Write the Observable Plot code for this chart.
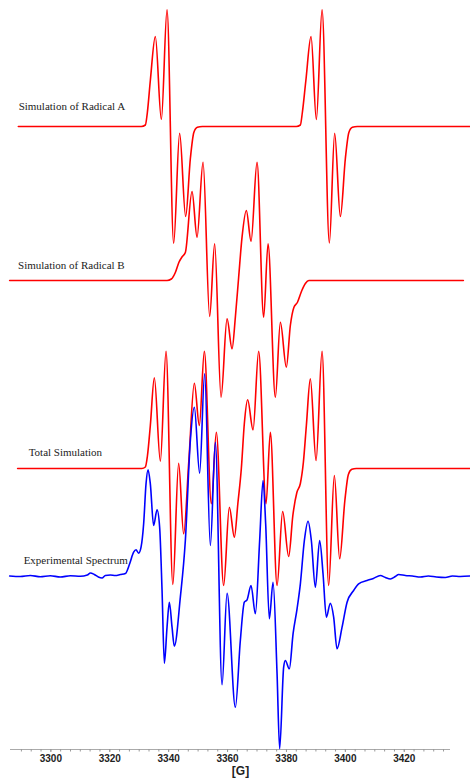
<!DOCTYPE html>
<html>
<head>
<meta charset="utf-8">
<script src="https://cdn.jsdelivr.net/npm/d3@7"></script>
<script src="https://cdn.jsdelivr.net/npm/@observablehq/plot@0.6"></script>
<style>
  html, body { margin: 0; padding: 0; background: #fff; }
  #chart svg { display: block; }
</style>
</head>
<body>
<div id="chart"></div>
<script>
// EPR spectra: magnetic field in gauss, derivative intensity in arbitrary units.

// Simulation of Radical A
const radicalAField = [3288.96, 3330.73, 3332.09, 3332.77, 3333.78, 3335.48, 3337.52, 3339.45, 3341.70, 3343.73, 3345.77, 3347.37, 3348.55, 3349.74, 3351.44,
  3383.36, 3384.72, 3385.40, 3386.59, 3388.35, 3390.15, 3392.09, 3394.57, 3396.37, 3398.30, 3400.00, 3401.19, 3402.38, 3404.07, 3442.44];
const radicalAIntensity = [0, 0, 1.5, 14, 46, 90, 7, 116.7, -116.7, -6.7, -90, -32, -6, -0.8, 0,
  0, 1.5, 14, 46, 90, 7, 116.7, -116.5, -6.7, -90, -32, -6, -0.8, 0, 0];

// Simulation of Radical B
const radicalBField = [3286.01, 3339.45, 3340.91, 3342.27, 3343.46, 3344.65, 3345.67, 3347.94, 3349.64, 3351.68, 3353.92, 3355.62, 3357.79, 3359.83, 3361.53,
  3362.65, 3363.77, 3364.92, 3366.38, 3367.98, 3370.01, 3372.26, 3373.75, 3376.23, 3377.93, 3379.96, 3381.32, 3382.51, 3383.70, 3385.22, 3386.42, 3387.60, 3440.07];
const radicalBIntensity = [0, 0, 1.5, 8, 18, 24, 28, 89, 43.3, 118.3, -36, 36.7, -116.7, -38.3, -68.3,
  -36.7, 3.3, 43.3, 70, 39.3, 118.3, -36.7, 36.7, -116.7, -41.7, -86.7, -45, -27, -22, -10, -3, 0, 0];

// Total Simulation (A + B)
const totalField = [3288.72, 3330.90, 3332.09, 3332.77, 3333.78, 3335.14, 3337.18, 3339.11, 3341.42, 3343.39, 3345.09, 3346.86, 3348.72, 3350.42, 3352.12,
  3354.50, 3356.19, 3358.67, 3360.61, 3362.31, 3363.50, 3364.68, 3365.70, 3366.82, 3368.66, 3370.56, 3373.07, 3374.53, 3376.81, 3378.71, 3380.75,
  3382.17, 3383.53, 3384.72, 3385.74, 3386.76, 3388.11, 3390.05, 3392.09, 3394.33, 3396.26, 3398.06, 3399.83, 3401.02, 3402.20, 3403.73, 3442.44];
const totalIntensity = [0, 0, 1.5, 12, 43, 90.7, 7.3, 117.3, -116, 5.3, -65.3, 8, 85.3, 43, 117.3,
  -35.3, 36.3, -117, -38.7, -68.7, -35, 0, 45, 68.7, 38.7, 117.3, -35.3, 36.3, -117, -43, -88,
  -47, -24, -15, 6, 43, 89.7, 8, 117.3, -117, -7, -90.3, -32, -6, -0.8, 0, 0];

// Experimental Spectrum
const experimentalField = [3286.01, 3289.64, 3293.04, 3296.43, 3299.83, 3303.22, 3306.62, 3310.01, 3312.39, 3313.41, 3314.77, 3316.13, 3317.38, 3318.50,
  3320.20, 3321.90, 3323.60, 3325.30, 3326.76, 3328.11, 3328.93, 3329.81, 3330.63, 3331.51, 3332.32, 3333.00, 3333.78, 3334.90, 3336.06, 3336.94,
  3337.76, 3338.54, 3339.45, 3340.24, 3341.15, 3341.93, 3343.97, 3345.67, 3347.37, 3348.72, 3350.52, 3352.22, 3354.16, 3355.86, 3358.13, 3359.83,
  3362.65, 3364.34, 3365.70, 3366.62, 3367.98, 3369.44, 3370.90, 3372.05, 3372.94, 3374.19, 3375.45, 3376.81, 3377.69, 3379.05, 3379.62, 3380.98,
  3382.24, 3383.60, 3384.72, 3386.08, 3387.33, 3388.45, 3389.81, 3391.27, 3392.42, 3393.55, 3394.90, 3396.03, 3397.18, 3398.88, 3400.58, 3402.82,
  3404.51, 3407.36, 3409.51, 3411.88, 3413.58, 3415.28, 3416.98, 3418.09, 3420.37, 3422.75, 3425.47, 3428.18, 3430.90, 3433.95, 3436.33, 3439.05, 3442.44];
const experimentalIntensity = [0.5, 0, 1, -0.3, 0.7, -0.5, 0.8, 0.2, 1.5, 3.5, 2, -0.5, -1.5, 1,
  1.5, 1, 2, 3, 12.7, 24.3, 26.7, 23.3, 29.3, 52.7, 92.7, 106.7, 92.7, 51, 66.7, 49.3,
  -14, -86.7, -50.7, -25.7, -50.7, -69.7, -20.7, 36, 136, 169.3, 103.3, 202.7, 31, 134.3, -108.3, -16.7,
  -130.7, -64, -25.7, -23.3, -9, -37.3, 36, 96, 52.7, -42.3, -5.7, -97.3, -172.3, -90.7, -84, -92.3,
  -57.3, -32.3, -7.3, 36, 55.3, 36, -10.7, 36, 2.7, -40.7, -26.7, -40.7, -72.3, -50.7, -25.7, -14,
  -7.3, -4, -2, 1, -1, -2.5, 0, 2, 1, 0.5, -0.5, 0.5, -0.5, -1, 0.5, 0, 0.5];

const seriesNames = ["Simulation of Radical A", "Simulation of Radical B", "Total Simulation", "Experimental Spectrum"];
const majorTicks = [3300, 3320, 3340, 3360, 3380, 3400, 3420];
const fieldLabel = "[G]";

// Vertical stacking of the four traces and placement of their captions
const layout = [
  {offset: 623, color: "#ff0000", labelField: 3289.06, labelDy: 20},
  {offset: 469, color: "#ff0000", labelField: 3288.86, labelDy: 15},
  {offset: 281, color: "#ff0000", labelField: 3292.46, labelDy: 15.7},
  {offset: 173, color: "#0000ff", labelField: 3290.76, labelDy: 16}
];

const fields = [radicalAField, radicalBField, totalField, experimentalField];
const intensities = [radicalAIntensity, radicalBIntensity, totalIntensity, experimentalIntensity];

const traces = seriesNames.map((name, i) => ({
  name,
  ...layout[i],
  points: fields[i].map((f, j) => ({field: f, y: layout[i].offset + intensities[i][j]}))
}));

const minorTicks = d3.range(3290, 3436, 10 / 3).map(v => Math.round(v * 100) / 100);

const chart = Plot.plot({
  width: 470,
  height: 781,
  marginTop: 0,
  marginBottom: 32,
  marginLeft: 10,
  marginRight: 20,
  style: {background: "#fff", overflow: "visible"},
  x: {domain: [3286.3, 3435.7], axis: null},
  y: {domain: [0, 749], axis: null},
  marks: [
    Plot.ruleY([0], {stroke: "#aaa", strokeWidth: 1}),
    Plot.ruleX(minorTicks, {x: d => d, y1: 0, y2: -2.5, stroke: "#999"}),
    Plot.axisX(majorTicks, {tickSize: 3, tickPadding: 2, stroke: "#999", fill: "#222", tickFormat: "d",
      fontWeight: "bold", fontSize: 10, fontFamily: "Liberation Sans, Arial, sans-serif", label: null}),
    Plot.text([fieldLabel], {frameAnchor: "bottom", dx: 10, dy: 25, fontWeight: "bold", fontSize: 12,
      fill: "#222", fontFamily: "Liberation Sans, Arial, sans-serif"}),
    ...traces.map(t => Plot.line(t.points, {x: "field", y: "y", stroke: t.color, strokeWidth: 1.6, curve: "monotone-x"})),
    Plot.text(traces, {x: "labelField", y: d => d.offset + d.labelDy, text: "name", textAnchor: "start",
      fontSize: 11, fill: "#222", fontFamily: "Liberation Serif, Times New Roman, serif"})
  ]
});

document.getElementById("chart").append(chart);
</script>
</body>
</html>
